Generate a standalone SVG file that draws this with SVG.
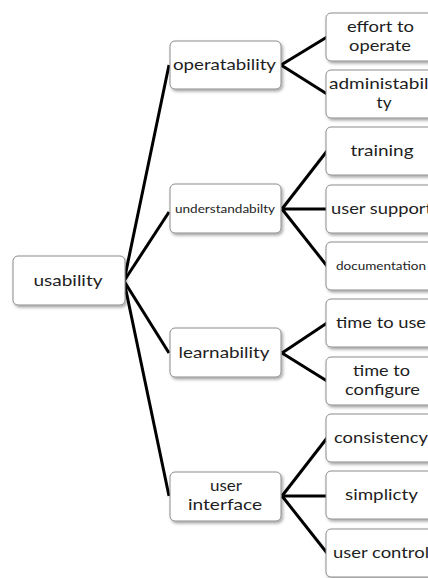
<svg xmlns="http://www.w3.org/2000/svg" width="428" height="578" viewBox="0 0 428 578">
  <defs>
    <filter id="shadow" x="-10%" y="-10%" width="125%" height="135%">
      <feDropShadow dx="1.5" dy="2" stdDeviation="1.4" flood-color="#000" flood-opacity="0.35"/>
    </filter>
  </defs>
  <style>
    .box { fill: #ffffff; stroke: #8c8c8c; stroke-width: 1; filter: url(#shadow); }
    .lbl { font-family: Lato, "Open Sans", "Liberation Sans", sans-serif; font-size: 15px; fill: #1e1e1e; text-anchor: middle; }
    .sm { font-size: 10.5px; }
    .wire { stroke: #000; stroke-width: 3; fill: none; }
  </style>
  <rect width="428" height="578" fill="#ffffff"/>

  <!-- connectors -->
  <g id="connectors" class="wire">
    <line x1="124" y1="281" x2="169" y2="65"/>
    <line x1="124" y1="281" x2="169" y2="212"/>
    <line x1="124" y1="281" x2="169" y2="353"/>
    <line x1="124" y1="281" x2="169" y2="496"/>
    <line x1="281" y1="65" x2="327" y2="37"/>
    <line x1="281" y1="65" x2="327" y2="94"/>
    <line x1="282" y1="209" x2="327" y2="151"/>
    <line x1="282" y1="209" x2="327" y2="209"/>
    <line x1="282" y1="209" x2="327" y2="266"/>
    <line x1="282" y1="353" x2="327" y2="323"/>
    <line x1="282" y1="353" x2="327" y2="381"/>
    <line x1="282" y1="496" x2="327" y2="438"/>
    <line x1="282" y1="496" x2="327" y2="496"/>
    <line x1="282" y1="496" x2="327" y2="553"/>
  </g>

  <!-- root -->
  <g id="usability">
    <rect class="box" x="13" y="256" width="112" height="49" rx="5"/>
    <text class="lbl" x="68" y="286" textLength="69" lengthAdjust="spacingAndGlyphs">usability</text>
  </g>

  <!-- second level -->
  <g id="operatability">
    <rect class="box" x="170" y="41" width="111" height="48" rx="5"/>
    <text class="lbl" x="224.5" y="70" textLength="103" lengthAdjust="spacingAndGlyphs">operatability</text>
  </g>
  <g id="understandability">
    <rect class="box" x="170" y="184" width="111" height="49" rx="5"/>
    <text class="lbl sm" x="225" y="213" textLength="100" lengthAdjust="spacingAndGlyphs">understandabilty</text>
  </g>
  <g id="learnability">
    <rect class="box" x="170" y="328" width="111" height="49" rx="5"/>
    <text class="lbl" x="224" y="358" textLength="91" lengthAdjust="spacingAndGlyphs">learnability</text>
  </g>
  <g id="user-interface">
    <rect class="box" x="170" y="472" width="111" height="49" rx="5"/>
    <text class="lbl" x="226" y="491" textLength="32" lengthAdjust="spacingAndGlyphs">user</text>
    <text class="lbl" x="225" y="509.5" textLength="74" lengthAdjust="spacingAndGlyphs">interface</text>
  </g>

  <!-- third level -->
  <g id="effort-to-operate">
    <rect class="box" x="326" y="13" width="110" height="48" rx="5"/>
    <text class="lbl" x="380.5" y="32" textLength="67" lengthAdjust="spacingAndGlyphs">effort to</text>
    <text class="lbl" x="380" y="50.5" textLength="62" lengthAdjust="spacingAndGlyphs">operate</text>
  </g>
  <g id="administability">
    <rect class="box" x="326" y="70" width="110" height="48" rx="5"/>
    <text class="lbl" x="381" y="89" textLength="104" lengthAdjust="spacingAndGlyphs">administabili</text>
    <text class="lbl" x="384" y="107.5" textLength="15" lengthAdjust="spacingAndGlyphs">ty</text>
  </g>
  <g id="training">
    <rect class="box" x="326" y="127" width="110" height="48" rx="5"/>
    <text class="lbl" x="382" y="156" textLength="63" lengthAdjust="spacingAndGlyphs">training</text>
  </g>
  <g id="user-support">
    <rect class="box" x="326" y="185" width="110" height="48" rx="5"/>
    <text class="lbl" x="381.5" y="214" textLength="101" lengthAdjust="spacingAndGlyphs">user support</text>
  </g>
  <g id="documentation">
    <rect class="box" x="326" y="242" width="110" height="48" rx="5"/>
    <text class="lbl sm" x="381" y="270" textLength="90" lengthAdjust="spacingAndGlyphs">documentation</text>
  </g>
  <g id="time-to-use">
    <rect class="box" x="326" y="299" width="110" height="48" rx="5"/>
    <text class="lbl" x="381" y="328" textLength="90" lengthAdjust="spacingAndGlyphs">time to use</text>
  </g>
  <g id="time-to-configure">
    <rect class="box" x="326" y="357" width="110" height="48" rx="5"/>
    <text class="lbl" x="381.5" y="376" textLength="57" lengthAdjust="spacingAndGlyphs">time to</text>
    <text class="lbl" x="382.5" y="394.5" textLength="75" lengthAdjust="spacingAndGlyphs">configure</text>
  </g>
  <g id="consistency">
    <rect class="box" x="326" y="414" width="110" height="48" rx="5"/>
    <text class="lbl" x="381" y="443" textLength="94" lengthAdjust="spacingAndGlyphs">consistency</text>
  </g>
  <g id="simplicty">
    <rect class="box" x="326" y="471" width="110" height="48" rx="5"/>
    <text class="lbl" x="381.5" y="500" textLength="73" lengthAdjust="spacingAndGlyphs">simplicty</text>
  </g>
  <g id="user-control">
    <rect class="box" x="326" y="529" width="110" height="48" rx="5"/>
    <text class="lbl" x="381" y="558" textLength="96" lengthAdjust="spacingAndGlyphs">user control</text>
  </g>
</svg>
